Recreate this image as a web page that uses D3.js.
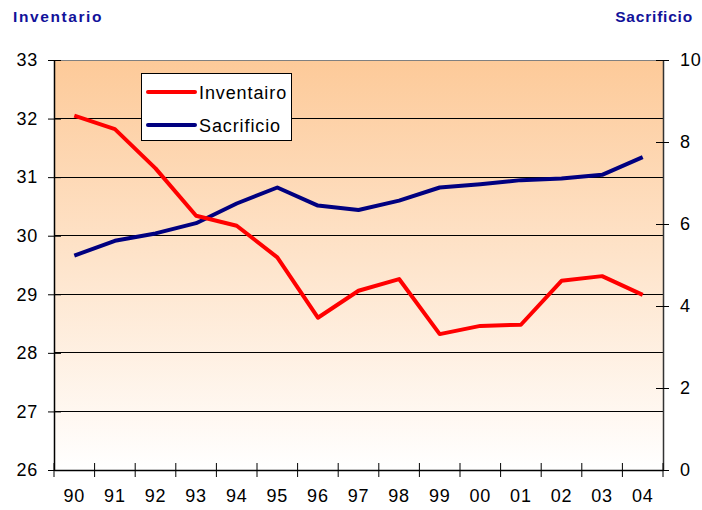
<!DOCTYPE html>
<html><head><meta charset="utf-8">
<script src="https://cdn.jsdelivr.net/npm/d3@7"></script>
<style>body{margin:0;background:#fff}svg{display:block}</style>
</head><body>
<svg id="c" width="702" height="510"></svg>
<script>
const years = ["90","91","92","93","94","95","96","97","98","99","00","01","02","03","04"];
const inventario = [32.05,31.82,31.15,30.34,30.17,29.63,28.6,29.06,29.26,28.32,28.46,28.48,29.23,29.31,28.99];
const sacrificio = [5.23,5.59,5.77,6.02,6.5,6.89,6.45,6.34,6.57,6.89,6.97,7.07,7.11,7.2,7.63];
const leftTicks = [26,27,28,29,30,31,32,33];
const rightTicks = [0,2,4,6,8,10];

const svg = d3.select("#c");
const L = 54, R = 663, T = 60, B = 470;
const x = d3.scaleBand().domain(years).range([L, R]);
const yL = d3.scaleLinear().domain([26, 33]).range([B, T]);
const yR = d3.scaleLinear().domain([0, 10]).range([B, T]);

const defs = svg.append("defs");
const g = defs.append("linearGradient").attr("id","bg").attr("x1",0).attr("y1",0).attr("x2",0).attr("y2",1);
g.append("stop").attr("offset","0%").attr("stop-color","#FDCA99");
g.append("stop").attr("offset","100%").attr("stop-color","#FFFFFF");
svg.append("rect").attr("x",L).attr("y",T).attr("width",R-L).attr("height",B-T).attr("fill","url(#bg)");

// gridlines
svg.append("g").selectAll("line").data(leftTicks.filter(d=>d>26 && d<33)).join("line")
  .attr("x1",L).attr("x2",R).attr("y1",d=>yL(d)).attr("y2",d=>yL(d))
  .attr("stroke","#000").attr("stroke-width",1).attr("shape-rendering","crispEdges");
svg.append("line").attr("x1",L).attr("x2",R).attr("y1",T).attr("y2",T)
  .attr("stroke","#808080").attr("stroke-width",1).attr("shape-rendering","crispEdges");

const font = "'Liberation Sans', Arial, sans-serif";
const fs = 18, ls = 0.8;

// left axis
const axL = svg.append("g").attr("transform",`translate(${L},0)`)
  .call(d3.axisLeft(yL).tickValues(leftTicks).tickFormat(d3.format("d")).tickSize(0).tickPadding(16));
axL.select(".domain").attr("stroke","#000").attr("stroke-width",1.5);
axL.selectAll(".tick line").remove();
axL.selectAll(".tick").append("line").attr("x1",-6).attr("x2",7).attr("stroke","#000");
axL.selectAll("text").attr("font-family",font).attr("font-size",fs).attr("letter-spacing",ls).attr("fill","#000");

// right axis
const axR = svg.append("g").attr("transform",`translate(${R},0)`)
  .call(d3.axisRight(yR).tickValues(rightTicks).tickFormat(d3.format("d")).tickSize(0).tickPadding(17));
axR.select(".domain").attr("stroke","#333").attr("stroke-width",1.5);
axR.selectAll(".tick line").remove();
axR.selectAll(".tick").append("line").attr("x1",-7).attr("x2",6).attr("stroke","#000");
axR.selectAll("text").attr("font-family",font).attr("font-size",fs).attr("letter-spacing",ls).attr("fill","#000");

// bottom axis
const axB = svg.append("g").attr("transform",`translate(0,${B})`)
  .call(d3.axisBottom(x).tickSize(0).tickPadding(19));
axB.select(".domain").attr("stroke","#000").attr("stroke-width",1.5);
axB.selectAll(".tick line").remove();
axB.selectAll("text").attr("font-family",font).attr("font-size",fs).attr("letter-spacing",ls).attr("fill","#000");
const bounds = years.map(d=>x(d)).concat([R]);
axB.append("g").selectAll("line").data(bounds).join("line")
  .attr("x1",d=>d).attr("x2",d=>d).attr("y1",-7).attr("y2",7).attr("stroke","#000");

// lines
const cx = d => x(d) + x.bandwidth()/2;
svg.append("path").datum(sacrificio)
  .attr("d", d3.line().x((d,i)=>cx(years[i])).y(d=>yR(d)))
  .attr("fill","none").attr("stroke","#000080").attr("stroke-width",4).attr("stroke-linejoin","round");
svg.append("path").datum(inventario)
  .attr("d", d3.line().x((d,i)=>cx(years[i])).y(d=>yL(d)))
  .attr("fill","none").attr("stroke","#FF0000").attr("stroke-width",4).attr("stroke-linejoin","round");

// legend
const lg = svg.append("g");
lg.append("rect").attr("x",141.5).attr("y",73.5).attr("width",150).attr("height",67)
  .attr("fill","#fff").attr("stroke","#000").attr("stroke-width",1);
const items = [{n:"Inventairo",c:"#FF0000",y:92},{n:"Sacrificio",c:"#000080",y:125}];
items.forEach(it=>{
  lg.append("line").attr("x1",148).attr("x2",195).attr("y1",it.y).attr("y2",it.y)
    .attr("stroke",it.c).attr("stroke-width",4).attr("stroke-linecap","round");
  lg.append("text").attr("x",199).attr("y",it.y+6.5).text(it.n)
    .attr("font-family",font).attr("font-size",fs).attr("letter-spacing",0.9).attr("fill","#000");
});

// axis titles
svg.append("text").attr("x",13).attr("y",22).text("Inventario")
  .attr("font-family",font).attr("font-size",15.5).attr("font-weight","bold").attr("letter-spacing",1.6).attr("fill","#12129A");
svg.append("text").attr("x",693).attr("y",22).attr("text-anchor","end").text("Sacrificio")
  .attr("font-family",font).attr("font-size",15.5).attr("font-weight","bold").attr("letter-spacing",0.8).attr("fill","#12129A");
</script>
</body></html>
